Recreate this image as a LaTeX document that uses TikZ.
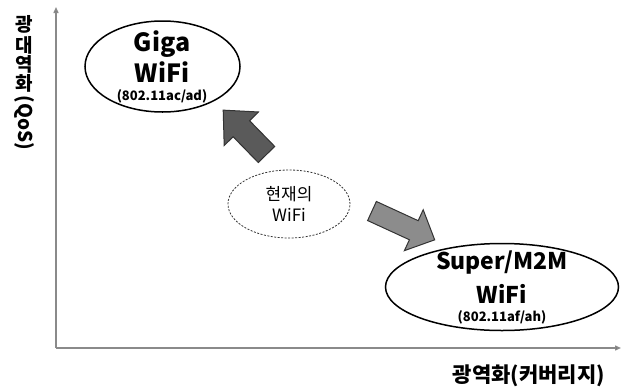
\documentclass[tikz,border=0pt]{standalone}
\usepackage{fontspec}
\setmainfont{Noto Sans CJK KR}
\usetikzlibrary{shapes.geometric,arrows.meta}
\definecolor{axisgray}{HTML}{8A8A8A}
\definecolor{darkarrow}{HTML}{5A5A5A}
\definecolor{lightarrow}{HTML}{8C8C8C}
\tikzset{
  axisline/.style={draw=axisgray, line width=1.4pt, -{Triangle[length=6pt,width=5pt,fill=black!80]}},
  bigell/.style={ellipse, draw=black, line width=1.5pt, inner sep=0pt},
  dashell/.style={ellipse, draw=black!80, line width=0.8pt, dash pattern=on 2pt off 1.5pt, inner sep=0pt},
  lbl/.style={inner sep=0pt, font=\bfseries},
  vch/.style={inner sep=0pt, font=\bfseries\fontsize{19}{19}\selectfont},
  blockarrow/.style={line width=1pt, draw=black!80},
}
\begin{document}
\begin{tikzpicture}[x=1pt,y=-1pt]
\useasboundingbox (0,0) rectangle (622,389);
% axes
\coordinate (O) at (56,348);
\coordinate (Ytop) at (56,7);
\coordinate (Xend) at (621,348);
\draw[axisline] (O) -- (Ytop);
\draw[axisline] (O) -- (Xend);
% axis labels
\node[vch] (y1) at (24,24) {광};
\node[vch] (y2) at (24,45) {대};
\node[vch] (y3) at (24,64) {역};
\node[vch] (y4) at (24,83) {화};
\node[vch, rotate=-90] (y5) at (24,123) {(QoS)};
\node[lbl, font=\bfseries\fontsize{21}{24}\selectfont] (xlab) at (529,376) {광역화(커버리지)};
% Giga WiFi
\node[bigell, minimum width=155pt, minimum height=91pt] (giga) at (162.5,66.5) {};
\node[lbl, font=\bfseries\fontsize{25}{30}\selectfont] (gigat1) at (162,44) {Giga};
\node[lbl, font=\bfseries\fontsize{25}{30}\selectfont] (gigat2) at (162,72) {WiFi};
\node[lbl, font=\bfseries\fontsize{13}{16}\selectfont] (gigat3) at (162,96) {(802.11ac/ad)};
% current WiFi
\node[dashell, minimum width=122pt, minimum height=68pt] (cur) at (289,204) {};
\node[inner sep=0pt, font=\fontsize{17}{20}\selectfont] (curt1) at (289,194) {현재의};
\node[inner sep=0pt, font=\fontsize{17}{20}\selectfont] (curt2) at (289,215) {WiFi};
% Super/M2M WiFi
\node[bigell, minimum width=233pt, minimum height=87pt] (super) at (502,287) {};
\node[lbl, font=\bfseries\fontsize{23}{28}\selectfont] (supt1) at (502,263) {Super/M2M};
\node[lbl, font=\bfseries\fontsize{23}{28}\selectfont] (supt2) at (502,294) {WiFi};
\node[lbl, font=\bfseries\fontsize{13}{16}\selectfont] (supt3) at (502,317) {(802.11af/ah)};
% block arrows
\begin{scope}[shift={(266.5,154.5)}, rotate=134.3]
\draw[blockarrow, fill=darkarrow] (0,-11.5) -- (36,-11.5) -- (36,-24) -- (62,0) -- (36,24) -- (36,11.5) -- (0,11.5) -- cycle;
\end{scope}
\begin{scope}[shift={(372,211)}, rotate=-24.7]
\draw[blockarrow, fill=lightarrow] (0,-10.5) -- (46,-10.5) -- (46,-22.5) -- (69,0) -- (46,22.5) -- (46,10.5) -- (0,10.5) -- cycle;
\end{scope}
\end{tikzpicture}
\end{document}
